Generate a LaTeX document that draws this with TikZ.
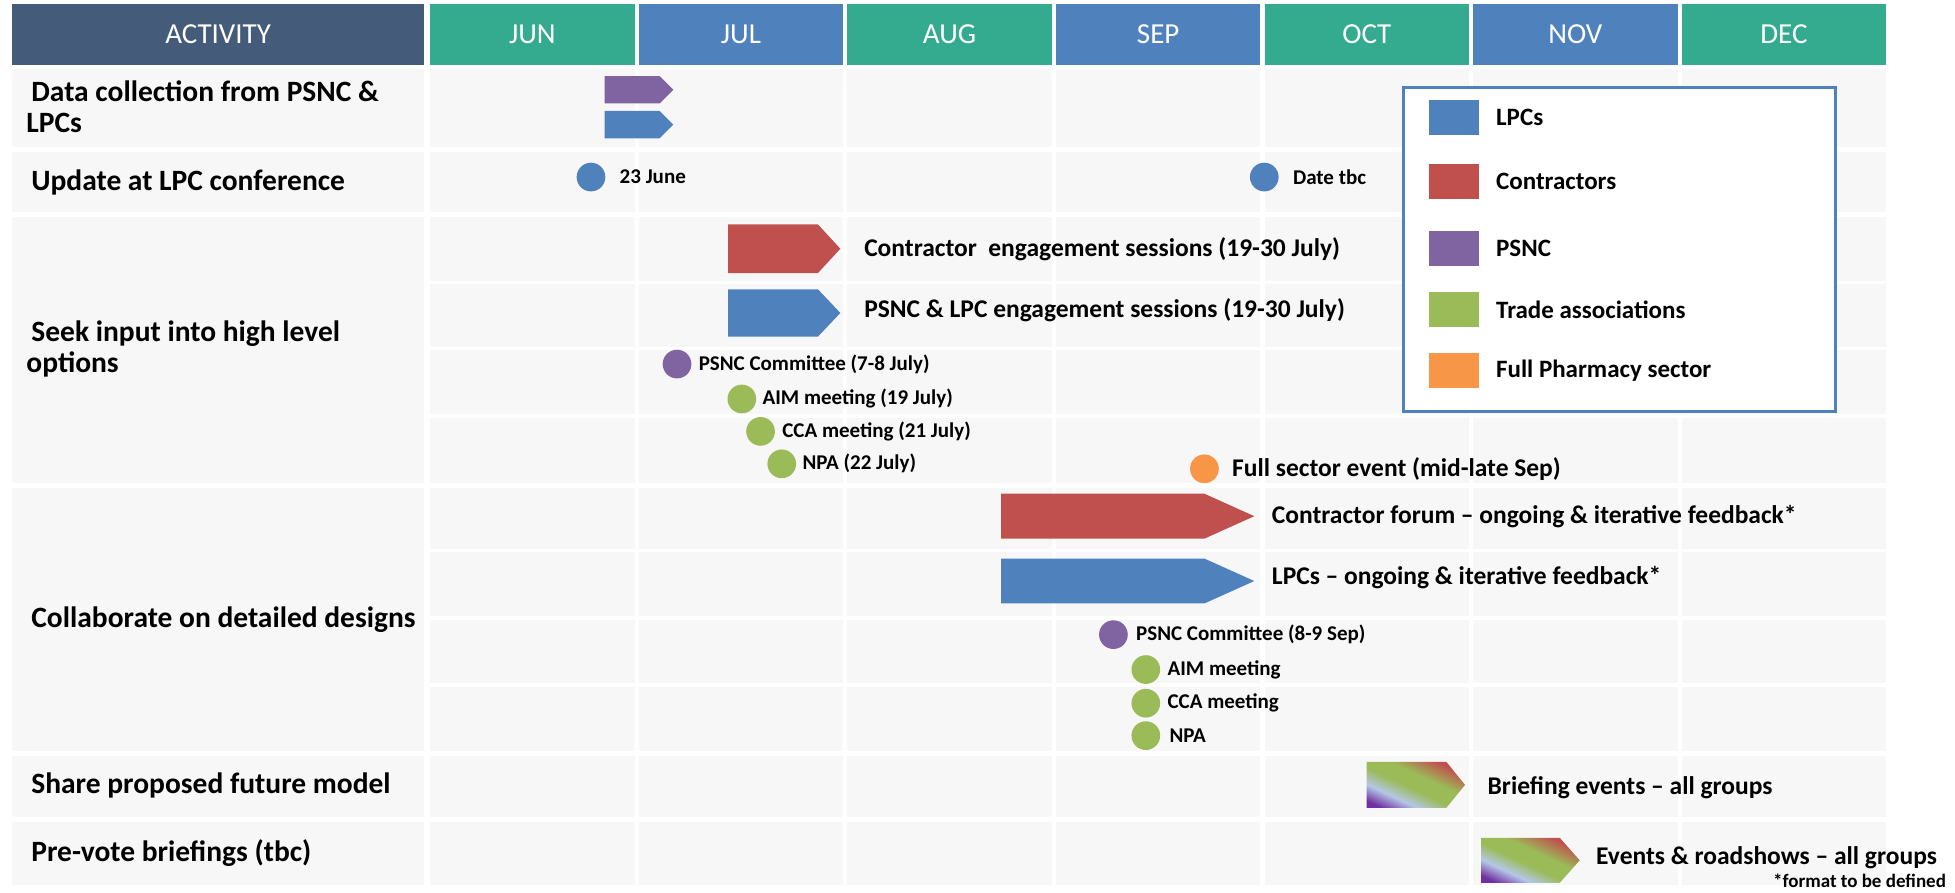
\documentclass[tikz,border=0pt]{standalone}
\usepackage{fontspec}
\setmainfont{Carlito}
\usetikzlibrary{positioning}
\definecolor{lpcblue}{HTML}{4F81BD}
\definecolor{conred}{HTML}{C0504D}
\definecolor{psncpurple}{HTML}{8064A2}
\definecolor{tradegreen}{HTML}{9BBB59}
\definecolor{fullorange}{HTML}{F79646}
\definecolor{hdteal}{HTML}{34AB8E}
\definecolor{hddark}{HTML}{455B7A}
\definecolor{cellgray}{HTML}{F7F7F7}
\definecolor{gradviolet}{HTML}{7030A0}
\definecolor{gradpale}{HTML}{B4C7E7}
\pgfdeclarehorizontalshading{allgroups}{100bp}{color(0bp)=(gradviolet); color(22bp)=(gradviolet); color(34bp)=(gradpale); color(46bp)=(tradegreen); color(58bp)=(tradegreen); color(74bp)=(conred); color(100bp)=(conred)}

\begin{document}
\begin{tikzpicture}[x=1.2468pt, y=-1.2468pt,
  bgcell/.style={fill=cellgray},
  hd/.style={text=white, inner sep=0pt, minimum height=61.1pt, font=\fontsize{29}{32}\selectfont},
  actlab/.style={anchor=west, inner sep=0pt, align=left, font=\bfseries\fontsize{29.5}{31}\selectfont},
  milestone/.style={circle, minimum size=28.7pt, inner sep=0pt},
  evlab/.style={inner sep=0pt, font=\bfseries\fontsize{21}{24}\selectfont},
  barlab/.style={anchor=west, inner sep=0pt, font=\bfseries\fontsize{25.5}{28}\selectfont},
  keybox/.style={minimum width=49.9pt, minimum height=34.9pt, inner sep=0pt},
  keylab/.style={inner sep=0pt, font=\bfseries\fontsize{25}{28}\selectfont}]
\useasboundingbox (0,0) rectangle (1568,716);
\fill[white] (0,0) rectangle (1568,716);

\node[hd, fill=hddark, minimum width=411.4pt] (hact) at (175,27.5) {ACTIVITY};
\foreach \m/\c [count=\i from 0] in {JUN/hdteal,JUL/lpcblue,AUG/hdteal,SEP/lpcblue,OCT/hdteal,NOV/lpcblue,DEC/hdteal}
  \node[hd, fill=\c, minimum width=204.5pt] (h\m) at ({427+167.3*\i},27.5) {\m};

\foreach \t/\b in {55/118,122/170,174/225,228/278,281/332,335/387,391/440,443/494,497/548,551/602,606/655,659/710}
  \foreach \i in {0,...,6}
    \fill[bgcell] ({345+167.3*\i},\t) rectangle ({509+167.3*\i},\b);
\foreach \t/\b in {55/118,122/170,174/387,391/602,606/655,659/710}
  \fill[bgcell] (10,\t) rectangle (340,\b);

\node[actlab] (act1) at (21,86) {\hspace*{5pt}Data collection from PSNC \&\\LPCs};
\node[actlab] (act2) at (25,146) {Update at LPC conference};
\node[actlab] (act3) at (21,280) {\hspace*{5pt}Seek input into high level\\options};
\node[actlab] (act4) at (25,497) {Collaborate on detailed designs};
\node[actlab] (act5) at (25,630) {Share proposed future model};
\node[actlab] (act6) at (25,684) {Pre-vote briefings (tbc)};

\fill[psncpurple] (485,61) -- (529,61) -- (540,72) -- (529,83) -- (485,83) -- cycle;
\fill[lpcblue] (485,89) -- (529,89) -- (540,100) -- (529,111) -- (485,111) -- cycle;

\node[milestone, fill=lpcblue] (m23jun) at (474,142) {};
\node[evlab, right=14pt of m23jun] (l23jun) {23 June};
\node[milestone, fill=lpcblue] (mtbc) at (1014,142) {};
\node[evlab, right=14pt of mtbc] (ltbc) {Date tbc};

\fill[conred] (584,180) -- (656,180) -- (674,199.5) -- (656,219) -- (584,219) -- cycle;
\node[barlab] (lconeng) at (693,200) {Contractor\ \ engagement sessions (19-30 July)};
\fill[lpcblue] (584,232) -- (656,232) -- (674,251) -- (656,270) -- (584,270) -- cycle;
\node[barlab] (llpceng) at (693,249) {PSNC \& LPC engagement sessions (19-30 July)};

\node[milestone, fill=psncpurple] (mpsncjul) at (543,292) {};
\node[evlab, right=7pt of mpsncjul] (lpsncjul) {PSNC Committee (7-8 July)};
\node[milestone, fill=tradegreen] (maimjul) at (595,320) {};
\node[evlab, right=6pt of maimjul] (laimjul) {AIM meeting (19 July)};
\node[milestone, fill=tradegreen] (mccajul) at (610,346) {};
\node[evlab, right=7pt of mccajul] (lccajul) {CCA meeting (21 July)};
\node[milestone, fill=tradegreen] (mnpajul) at (627,372) {};
\node[evlab, right=6pt of mnpajul] (lnpajul) {NPA (22 July)};
\node[milestone, fill=fullorange] (mfull) at (966,376) {};
\node[barlab, right=13pt of mfull] (lfull) {Full sector event (mid-late Sep)};

\fill[conred] (803,396) -- (966,396) -- (1006,414) -- (966,432) -- (803,432) -- cycle;
\node[barlab] (lconforum) at (1020,414) {Contractor forum -- ongoing \& iterative feedback*};
\fill[lpcblue] (803,448) -- (966,448) -- (1006,466) -- (966,484) -- (803,484) -- cycle;
\node[barlab] (llpcforum) at (1020,463) {LPCs -- ongoing \& iterative feedback*};

\node[milestone, fill=psncpurple] (mpsncsep) at (893,509) {};
\node[evlab, right=8pt of mpsncsep] (lpsncsep) {PSNC Committee (8-9 Sep)};
\node[milestone, fill=tradegreen] (maimsep) at (919,537) {};
\node[evlab, right=7pt of maimsep] (laimsep) {AIM meeting};
\node[milestone, fill=tradegreen] (mccasep) at (919,564) {};
\node[evlab, right=7pt of mccasep] (lccasep) {CCA meeting};
\node[milestone, fill=tradegreen] (mnpasep) at (919,590) {};
\node[evlab, right=9pt of mnpasep] (lnpasep) {NPA};

\shade[shading=allgroups, shading angle=65] (1096,611) -- (1160,611) -- (1175,629.5) -- (1160,648) -- (1096,648) -- cycle;
\node[barlab] (lbrief) at (1193,632) {Briefing events -- all groups};
\shade[shading=allgroups, shading angle=65] (1188,672) -- (1251,672) -- (1267,690) -- (1251,708) -- (1188,708) -- cycle;
\node[barlab] (lroad) at (1280,688) {Events \& roadshows -- all groups};

\draw[lpcblue, line width=3pt, fill=white] (1126,70) rectangle (1472,330);
\foreach \c/\t/\y [count=\n] in {lpcblue/LPCs/94, conred/Contractors/145.5, psncpurple/PSNC/199, tradegreen/Trade associations/248.5, fullorange/Full Pharmacy sector/297}
  {
  \node[keybox, fill=\c] (k\n) at (1166,\y) {};
  \node[keylab, right=17pt of k\n] (kl\n) {\t};
  }

\node[anchor=base west, inner sep=0pt, font=\bfseries\fontsize{19}{22}\selectfont] (note) at (1422,711.5) {*format to be defined};
\end{tikzpicture}
\end{document}
